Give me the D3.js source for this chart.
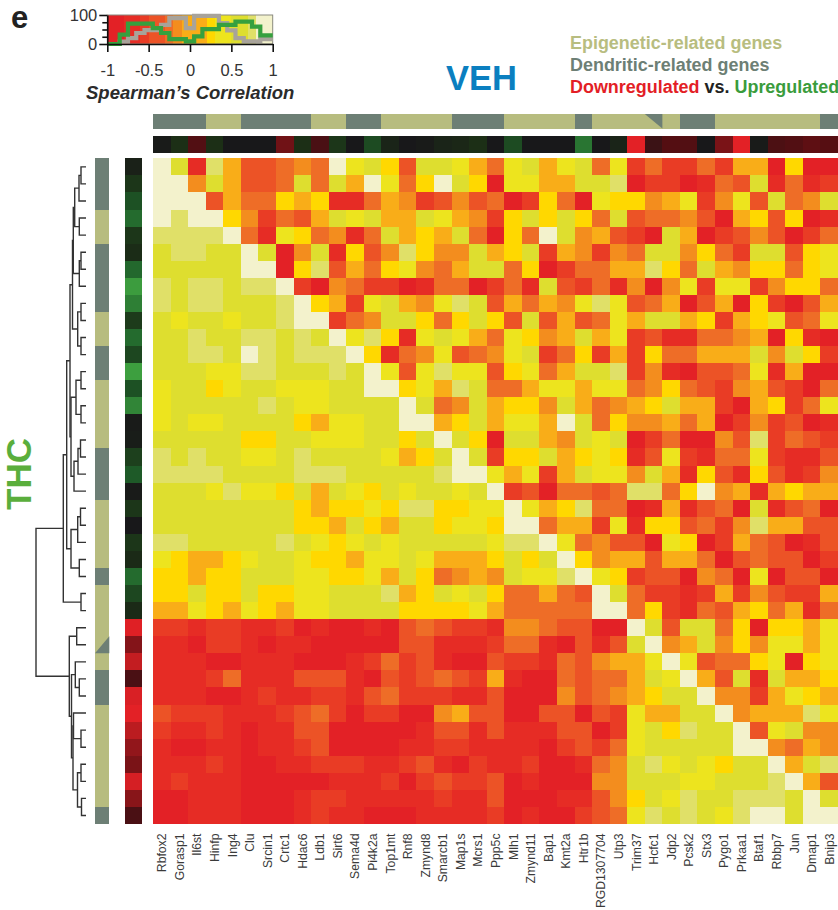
<!DOCTYPE html>
<html>
<head>
<meta charset="utf-8">
<title>Spearman correlation heatmap</title>
<script src="https://cdnjs.cloudflare.com/ajax/libs/d3/7.8.5/d3.min.js"></script>
<style>
  html, body { margin: 0; padding: 0; background: #fff; overflow: hidden; }
  text { font-family: "Liberation Sans", Arial, sans-serif; }
</style>
</head>
<body>
<div id="chart"></div>
<script>
const WIDTH = 838;
const HEIGHT = 910;

const genes = ["Rbfox2","Gorasp1","Il6st","Hinfp","Ing4","Clu","Srcin1","Crtc1","Hdac6","Ldb1","Sirt6","Sema4d","Pi4k2a","Top1mt","Rnf8","Zmynd8","Smarcb1","Map1s","Mcrs1","Ppp5c","Mlh1","Zmynd11","Bap1","Kmt2a","Htr1b","RGD1307704","Utp3","Trim37","Hcfc1","Jdp2","Pcsk2","Stx3","Pygo1","Prkaa1","Btaf1","Rbbp7","Jun","Dmap1","Bnip3"];

// D = dendritic, E = epigenetic, B = both (split cell)
const geneType = ["D","D","D","E","E","D","D","D","D","E","E","D","D","E","E","E","E","D","D","D","E","E","E","E","D","E","E","E","B","E","D","D","E","E","E","E","E","E","D"];

// fold change per gene, -1 = up (green), 1 = down (red)
const vehFold = [-.02,-.15,.28,-.15,0,0,0,.43,-.15,.24,-.2,0,-.36,-.08,0,-.02,-.08,-.1,-.15,0,-.36,0,0,0,-.68,0,-.08,1,.17,.29,.28,0,.48,1,-.02,.25,.28,.34,.3];
const thcFold = [-.06,-.2,-.4,-.6,-.2,-.13,-.58,-.98,-.75,-.24,-.6,-.33,-1,-.4,-.8,-.02,-.03,-.28,-.47,-.02,-.2,0,-.2,-.12,-.6,-.33,-.12,.98,.53,.84,.24,.95,1,.8,.6,.48,.93,.55,.24];

// spearman correlation x 10, one list per row
const rho = [
  [9,6,-7,8,0,-4,-4,-3,-1,-3,9,4,6,2,-4,6,6,4,0,-3,4,6,0,4,6,-3,4,-5,-3,-5,-5,-3,-5,0,0,-9,2,-9,-9],
  [9,9,-1,6,0,-4,-4,-3,6,-3,6,0,9,4,-3,2,9,6,2,-9,4,4,0,0,6,6,8,-9,-5,-5,-9,-7,-3,-4,6,-7,-3,-7,-5],
  [9,9,9,-4,0,-3,-3,2,0,2,-7,-7,-3,0,-1,-5,-4,-1,-4,-3,-9,-5,2,-3,-9,4,2,2,-1,0,4,-5,-1,4,-4,6,-3,-1,6],
  [9,8,9,9,2,-1,-5,-3,-4,0,6,4,6,0,0,6,4,0,-1,-5,2,6,2,6,2,-3,6,-4,-3,-3,-1,-4,-9,0,2,-4,2,-9,-7],
  [8,8,8,8,9,-3,-7,4,2,-3,-1,-7,-3,6,0,2,0,6,-3,-9,2,-3,9,6,-1,0,-4,-5,-9,6,0,-9,-5,-4,-1,-4,-9,-5,-3],
  [6,8,8,6,6,9,6,-9,-1,6,-7,2,-4,-1,8,2,-1,-1,6,0,2,6,-5,0,-1,-5,-1,-3,6,6,-1,2,-3,-5,6,6,-4,2,4],
  [6,6,6,6,6,9,9,-9,2,8,-4,0,-3,2,4,-1,-3,0,6,6,-3,2,-9,-5,-3,-3,0,0,8,2,-3,6,0,-1,2,2,-3,2,4],
  [8,6,8,8,6,8,8,9,-5,-9,-1,-3,-5,-5,-9,-7,-3,-3,-9,-5,-3,-7,6,-4,-5,-3,-7,-1,-9,-1,4,-5,4,4,-5,-1,2,2,-3],
  [8,6,8,8,6,6,6,8,9,2,0,-5,4,6,0,-1,4,8,6,-4,0,-3,0,-1,4,8,4,-4,-3,0,-9,-4,0,-9,2,-5,-9,-4,0],
  [6,4,6,6,4,6,6,8,9,9,-5,-3,-1,6,6,2,-3,2,6,2,-4,6,-4,0,-4,-3,4,0,6,6,0,2,-5,0,2,4,-4,-3,4],
  [6,6,8,6,6,8,8,6,8,6,9,4,8,2,-7,4,6,4,0,-3,4,2,-1,0,6,0,4,-5,-4,-7,-7,-3,-3,-1,0,-9,2,-7,-9],
  [6,6,8,8,6,9,8,6,8,8,8,9,2,-7,-3,-1,4,-4,-3,-1,4,6,-5,-3,2,-5,0,-5,2,-3,-3,0,0,0,6,-1,6,2,-5],
  [6,6,6,4,4,8,8,6,6,6,8,6,9,4,-4,4,8,4,4,-4,2,4,-3,0,6,6,8,-5,-1,-7,-9,-4,-4,-3,4,-7,0,-9,-9],
  [4,6,6,2,4,6,6,4,4,4,6,6,9,9,2,4,0,8,6,-3,-3,0,4,4,0,4,4,-3,-1,2,-3,-4,-5,-1,0,-4,-5,-9,-3],
  [4,6,6,6,6,6,8,6,4,4,6,6,6,6,9,6,-3,-1,6,0,2,2,-1,6,0,-3,-1,0,2,6,0,0,-5,-9,0,2,-5,-3,4],
  [4,6,4,4,6,6,6,6,2,0,4,4,6,6,9,9,0,2,6,0,4,4,0,9,6,-3,2,-1,-1,0,-3,0,-9,-5,-1,-5,-4,-9,-7],
  [6,6,6,6,6,2,2,6,6,4,4,4,6,6,2,6,9,6,2,-9,6,6,0,-1,6,4,6,-9,-5,-3,-9,-9,-1,-4,8,-5,-3,-4,-5],
  [8,6,8,6,6,4,4,6,8,6,6,6,6,4,0,2,6,9,6,-5,2,2,6,0,2,4,2,-7,-4,4,-5,-7,-3,-3,4,-5,-7,-7,-4],
  [8,8,8,8,6,6,6,6,8,8,8,6,6,6,6,6,8,9,9,4,0,4,-5,0,6,4,4,-1,6,0,-7,2,-4,-7,2,-4,-7,-5,-1],
  [6,6,6,4,8,4,4,2,6,0,6,4,2,6,4,6,6,4,6,9,-5,-4,-9,-3,-3,-4,-3,8,8,-3,2,9,-1,0,-7,0,2,0,0],
  [6,6,6,6,6,6,6,6,2,0,2,2,4,2,8,8,2,2,4,4,9,4,0,2,8,-3,-3,-9,-7,0,-7,-4,-3,-9,6,-7,-4,-3,-9],
  [6,6,6,6,6,6,6,6,2,2,0,6,2,0,6,6,2,4,4,2,9,9,-3,0,0,-5,4,-7,2,2,-4,-3,-5,-1,8,0,0,-4,-4],
  [8,8,6,6,6,6,6,8,6,4,2,4,6,4,6,6,6,6,6,4,8,8,9,4,-3,-1,-4,-4,-9,4,2,-9,-5,0,-3,-4,-9,-7,-4],
  [4,2,0,0,2,4,6,6,4,2,2,0,4,4,6,4,0,0,0,2,6,2,6,9,2,-1,0,0,-4,0,0,-3,-9,-4,-3,-4,-4,-9,-5],
  [2,2,0,2,2,6,6,6,4,4,2,2,4,0,6,2,-3,-1,0,-1,6,4,4,8,9,4,2,-5,-4,-4,-9,-1,-3,-9,4,-9,-4,-4,-9],
  [2,2,6,2,2,6,2,2,4,4,6,6,6,8,0,2,6,4,6,2,-3,-3,0,-3,-4,9,6,-3,-5,-5,-7,-5,0,-5,-1,-4,-5,-5,0],
  [0,0,4,2,0,4,2,0,4,4,6,6,6,6,2,2,2,2,4,0,-3,-3,-3,-3,-3,9,9,-3,2,-5,-7,-3,-4,0,2,-3,0,-7,-3],
  [-5,-5,-7,-5,-5,-7,-7,-5,-9,-7,-9,-9,-7,-9,-4,-3,-4,-5,-5,-7,-1,-1,-3,-4,-4,-9,-9,9,6,-4,6,6,-3,2,-9,2,2,0,4],
  [-7,-7,-9,-5,-5,-7,-9,-7,-7,-9,-9,-9,-9,-9,-4,-4,-7,-7,-7,-5,-3,-3,-7,-9,-4,-7,-4,6,9,-1,0,6,-1,2,-1,4,4,0,4],
  [-7,-7,-7,-9,-9,-7,-7,-7,-9,-9,-9,-7,-5,-3,-5,-4,-7,-9,-9,-4,-5,-5,-7,-3,-4,-1,0,0,4,9,4,-4,-3,-3,2,4,-9,2,4],
  [-7,-7,-7,-5,-3,-7,-7,-7,-4,-4,-4,-7,-9,-4,-5,-4,-3,-4,-5,0,-7,-9,-9,-3,-4,-3,-3,0,6,4,9,0,-4,6,-7,6,0,0,2],
  [-7,-7,-7,-9,-9,-7,-5,-7,-7,-5,-5,-7,-4,-3,-5,-5,-5,-7,-7,-4,-9,-9,-9,-1,-4,-3,-1,0,2,6,6,9,-1,-1,-5,0,4,2,0],
  [-4,-5,-5,-5,-7,-7,-7,-5,-4,-3,-5,-9,-5,-5,-9,-9,-1,0,-4,-4,-9,-9,-4,-4,-9,-4,-5,4,0,0,6,6,9,-1,0,0,0,8,4],
  [-5,-7,-7,-5,-7,-9,-7,-7,-4,-4,-9,-9,-9,-9,-9,-7,-4,-4,-7,-4,-7,-7,-7,-4,-4,-9,-5,4,6,2,8,6,6,9,-4,4,6,-1,-1],
  [-7,-9,-9,-7,-7,-9,-7,-7,-5,-4,-9,-9,-9,-9,-7,-7,-5,-5,-7,-7,-7,-7,-9,-5,-4,-5,-3,4,6,6,6,6,6,9,9,-1,-3,0,-1],
  [-7,-7,-7,-5,-7,-9,-9,-7,-7,-5,-5,-5,-7,-7,-5,-4,-7,-9,-5,-7,-7,-5,-9,-9,-7,-3,-1,6,8,4,6,4,2,6,6,9,0,6,8],
  [-7,-5,-7,-7,-7,-9,-9,-9,-9,-9,-7,-7,-7,-5,-9,-5,-4,-5,-5,-4,-9,-7,-9,-9,-9,-1,-1,6,6,6,4,4,6,6,6,8,9,0,-4],
  [-9,-9,-7,-7,-7,-9,-9,-9,-7,-5,-5,-7,-7,-7,-7,-7,-5,-7,-7,-4,-9,-9,-9,-7,-7,-4,-1,2,6,4,8,6,6,8,8,8,6,9,6],
  [-9,-9,-7,-7,-7,-9,-9,-9,-7,-5,-7,-7,-9,-9,-9,-7,-7,-7,-7,-5,-9,-7,-9,-9,-5,-4,-3,4,8,6,8,6,4,8,9,9,6,9,9]
];

// legend histograms, percent of gene pairs at each 0.1 step of rho
const rhoSteps = [-1,-.9,-.8,-.7,-.6,-.5,-.4,-.3,-.2,-.1,0,.1,.2,.3,.4,.5,.6,.7,.8,.9,1];
const vehHist = [0,0,8,20,38,48,48,66,89,89,55,97,97,97,72,47,20,9,9,17,17];
const thcHist = [0,0,32,70,70,70,55,38,17,17,9,26,51,51,66,66,77,77,60,30,30];

// dendrogram as nested [left, right, height], leaves are row numbers
const groupA = [[[0,1,.1],2,.14],[3,4,.134],.226];
const groupB = [[5,6,.1],7,.134];
const groupC = [[8,9,.1],[10,11,.1],.166];
const groupD = [[[12,13,.1],[14,15,.1],.2],[[[16,17,.11],18,.16],19,.24],.3];
const groupF = [[[20,21,.11],22,.166],[23,24,.134],.3];
const upperTree = [[[[[groupA,groupB,.254],groupC,.27],groupD,.32],groupF,.386],[25,26,.1],.454];
const lowerTree = [[27,28,.186],[[29,[30,31,.134],.214],[[32,[33,34,.1],.25],[[35,36,.1],[37,38,.09],.17],.26],.29],.334];
const tree = [upperTree,lowerTree,1];

const TYPE_COLORS = {D: "#6d7f75", E: "#b7bc7f"};

const colorScale = d3.scaleThreshold() //binned colors of the legend
  .domain([-.8,-.6,-.46,-.32,-.2,-.06,.18,.32,.48,.73,.85])
  .range(["#e32126","#e62c25","#e93c25","#ec5326","#ee6d27","#f38d1e","#f9ad18","#ffd800","#ede41e","#dede2f","#e0e068","#f3f2cc"]);

const foldScale = d3.scaleLinear() //dark in the middle, green up, red down
  .domain([-1,-.5,-.15,0,.3,1])
  .range(["#3d9f3f","#1e5e2a","#1c2f16","#18181a","#560e12","#e32126"]);

const x = d3.scaleBand().domain(d3.range(genes.length)).range([153,838]);
const y = d3.scaleBand().domain(d3.range(genes.length)).range([158.3,824]);

const chart = d3.select("#chart")
  .append("svg")
  .attr("width", WIDTH)
  .attr("height", HEIGHT)
  .style("display", "block");

// heatmap cells
chart.append("g")
  .attr("shape-rendering", "crispEdges")
  .selectAll("g")
  .data(rho)
  .join("g")
  .selectAll("rect")
  .data((row, r) => row.map((v, c) => ({r, c, v: v / 10})))
  .join("rect")
    .attr("x", d => x(d.c))
    .attr("y", d => y(d.r))
    .attr("width", x.bandwidth())
    .attr("height", y.bandwidth())
    .attr("fill", d => colorScale(d.v));

// annotation bars on top and left
const bars = chart.append("g").attr("shape-rendering", "crispEdges");

bars.selectAll(".top-type")
  .data(geneType)
  .join("rect")
    .attr("class", "top-type")
    .attr("x", (d, i) => x(i))
    .attr("y", 114)
    .attr("width", x.bandwidth())
    .attr("height", 14.5)
    .attr("fill", d => d == "D" ? TYPE_COLORS.D : TYPE_COLORS.E);

bars.selectAll(".top-fold")
  .data(vehFold)
  .join("rect")
    .attr("class", "top-fold")
    .attr("x", (d, i) => x(i))
    .attr("y", 136)
    .attr("width", x.bandwidth())
    .attr("height", 17)
    .attr("fill", d => foldScale(d));

bars.selectAll(".side-type")
  .data(geneType)
  .join("rect")
    .attr("class", "side-type")
    .attr("x", 95)
    .attr("y", (d, i) => y(i))
    .attr("width", 14.3)
    .attr("height", y.bandwidth())
    .attr("fill", d => d == "D" ? TYPE_COLORS.D : TYPE_COLORS.E);

bars.selectAll(".side-fold")
  .data(thcFold)
  .join("rect")
    .attr("class", "side-fold")
    .attr("x", 124.7)
    .attr("y", (d, i) => y(i))
    .attr("width", 16.8)
    .attr("height", y.bandwidth())
    .attr("fill", d => foldScale(d));

// genes that are both types get a dark corner
const both = geneType.map((d, i) => d == "B" ? i : -1).filter(i => i >= 0);

chart.append("g").selectAll("path")
  .data(both)
  .join("path")
    .attr("fill", TYPE_COLORS.D)
    .attr("d", i => `M${x(i)},114L${x(i) + x.bandwidth()},114L${x(i) + x.bandwidth()},128.5Z`);

chart.append("g").selectAll("path")
  .data(both)
  .join("path")
    .attr("fill", TYPE_COLORS.D)
    .attr("d", i => `M95,${y(i) + y.bandwidth()}L109.3,${y(i)}L109.3,${y(i) + y.bandwidth()}Z`);

// gene labels
chart.append("g").selectAll("text")
  .data(genes)
  .join("text")
    .attr("transform", (d, i) => `translate(${x(i) + x.bandwidth() / 2 + 4.5},833.5) rotate(-90)`)
    .attr("text-anchor", "end")
    .attr("font-size", 12.2)
    .attr("fill", "#3a3a3a")
    .text(d => d);

// dendrogram
const treeX = d3.scaleLinear().domain([0,1]).range([86,36]);
const root = d3.hierarchy(tree, d => Array.isArray(d) ? d.slice(0,2) : null);

root.eachAfter(n => {
  if (n.children) {
    n.px = treeX(n.data[2]);
    n.py = (n.children[0].py + n.children[1].py) / 2;
  } else {
    n.px = treeX(0);
    n.py = y(n.data) + y.bandwidth() / 2;
  }
});

chart.append("g").selectAll("path")
  .data(root.descendants().filter(n => n.children))
  .join("path")
    .attr("fill", "none")
    .attr("stroke", "#333")
    .attr("stroke-width", 1.4)
    .attr("d", n => {
      const [a, b] = n.children;
      return `M${a.px},${a.py}H${n.px}V${b.py}H${b.px}`;
    });

// legend histogram
const legX = d3.scaleLinear().domain([-1,1]).range([107.3,272.7]);
const legY = d3.scaleLinear().domain([0,100]).range([44,15]);
const legend = chart.append("g");

const binEdges = d3.range(-1, 1, .1); //20 color bins across the legend

legend.append("g")
  .attr("shape-rendering", "crispEdges")
  .selectAll("rect")
  .data(binEdges)
  .join("rect")
    .attr("x", d => legX(d))
    .attr("y", legY(100))
    .attr("width", legX(.1) - legX(0) + .5)
    .attr("height", legY(0) - legY(100))
    .attr("fill", d => colorScale(d + .05));

legend.append("rect")
  .attr("x", legX(-1))
  .attr("y", legY(100))
  .attr("width", legX(1) - legX(-1))
  .attr("height", legY(0) - legY(100))
  .attr("fill", "none")
  .attr("stroke", "#8a8a80");

const histLine = d3.line()
  .x((d, i) => legX(rhoSteps[i]))
  .y(d => legY(d))
  .curve(d3.curveStep);

legend.append("path")
  .attr("d", histLine(vehHist))
  .attr("fill", "none")
  .attr("stroke", "#a8a39a")
  .attr("stroke-width", 4.2);

legend.append("path")
  .attr("d", histLine(thcHist))
  .attr("fill", "none")
  .attr("stroke", "#36a03e")
  .attr("stroke-width", 4.2);

const axisX = legend.append("g")
  .attr("transform", `translate(0,${legY(0)})`)
  .call(d3.axisBottom(legX).tickValues([-1,-.5,0,.5,1]).tickFormat(d => String(d)).tickSize(8).tickPadding(12).tickSizeOuter(0));

const axisY = legend.append("g")
  .attr("transform", `translate(${legX(-1)},0)`)
  .call(d3.axisLeft(legY).tickValues([0,25,50,75,100]).tickFormat(d => d % 100 == 0 ? d : "").tickSize(5).tickPadding(2).tickSizeOuter(0));

axisY.selectAll(".tick").filter(d => d % 100 == 0).select("line").attr("x2", -8);
axisY.selectAll(".tick text").attr("x", -10);

[axisX, axisY].forEach(a => {
  a.selectAll("path, line").attr("stroke", "#111").attr("stroke-width", 1.6);
  a.selectAll("text").attr("font-size", 16.5).attr("fill", "#333").attr("font-family", "Liberation Sans");
});

legend.append("text")
  .attr("x", 86)
  .attr("y", 98.5)
  .attr("font-size", 18.5)
  .attr("font-weight", "bold")
  .attr("font-style", "italic")
  .attr("fill", "#2b2b2b")
  .text("Spearman’s Correlation");

// titles and key
chart.append("text")
  .attr("x", 11)
  .attr("y", 28)
  .attr("font-size", 31)
  .attr("font-weight", "bold")
  .attr("fill", "#222")
  .text("e");

chart.append("text")
  .attr("x", 446)
  .attr("y", 90)
  .attr("font-size", 34.5)
  .attr("font-weight", "bold")
  .attr("fill", "#0b7fc0")
  .text("VEH");

chart.append("text")
  .attr("transform", "translate(31,474) rotate(-90)")
  .attr("text-anchor", "middle")
  .attr("font-size", 35)
  .attr("font-weight", "bold")
  .attr("fill", "#5aae3c")
  .text("THC");

const keyText = (yPos) => chart.append("text")
  .attr("x", 570)
  .attr("y", yPos)
  .attr("font-size", 17.95)
  .attr("font-weight", "bold");

keyText(49).attr("fill", "#b8bd80").text("Epigenetic-related genes");
keyText(71).attr("fill", "#6d7f75").text("Dendritic-related genes");

const keyLine = keyText(93);
keyLine.append("tspan").attr("fill", "#e31e26").text("Downregulated");
keyLine.append("tspan").attr("fill", "#222").text(" vs. ");
keyLine.append("tspan").attr("fill", "#3a9c3c").text("Upregulated");
</script>
</body>
</html>
